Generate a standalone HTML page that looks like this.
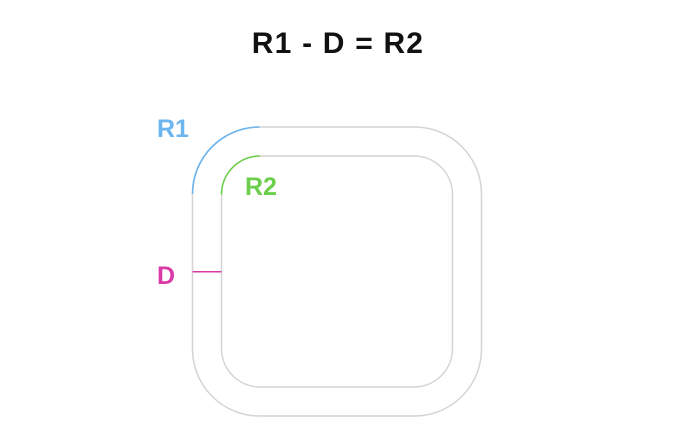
<!DOCTYPE html>
<html><head><meta charset="utf-8"><style>
html,body{margin:0;padding:0;background:#fff;width:680px;height:442px;overflow:hidden}
svg text{font-family:"Liberation Sans",sans-serif;font-weight:bold}
</style></head><body>
<svg width="680" height="442" viewBox="0 0 680 442">
<text x="338" y="53" text-anchor="middle" font-size="30" letter-spacing="1.2" fill="#111">R1 - D = R2</text>
<rect x="192.5" y="127" width="289" height="289" rx="67" fill="none" stroke="#d4d4d4" stroke-width="1.5"/>
<rect x="221.5" y="156" width="231" height="231" rx="38.5" fill="none" stroke="#d4d4d4" stroke-width="1.5"/>
<path d="M192.5 194 A67 67 0 0 1 259.5 127" fill="none" stroke="#6db5ee" stroke-width="1.6"/>
<path d="M221.5 194.5 A38.5 38.5 0 0 1 260 156" fill="none" stroke="#6ccf4c" stroke-width="1.6"/>
<line x1="192.5" y1="271.7" x2="221.5" y2="271.7" stroke="#d93aa8" stroke-width="1.5"/>
<text x="157" y="137" font-size="25" fill="#6db5ee">R1</text>
<text x="245" y="195" font-size="25" fill="#6ccf4c">R2</text>
<text x="157" y="284" font-size="25" fill="#d93aa8">D</text>
</svg>
</body></html>
